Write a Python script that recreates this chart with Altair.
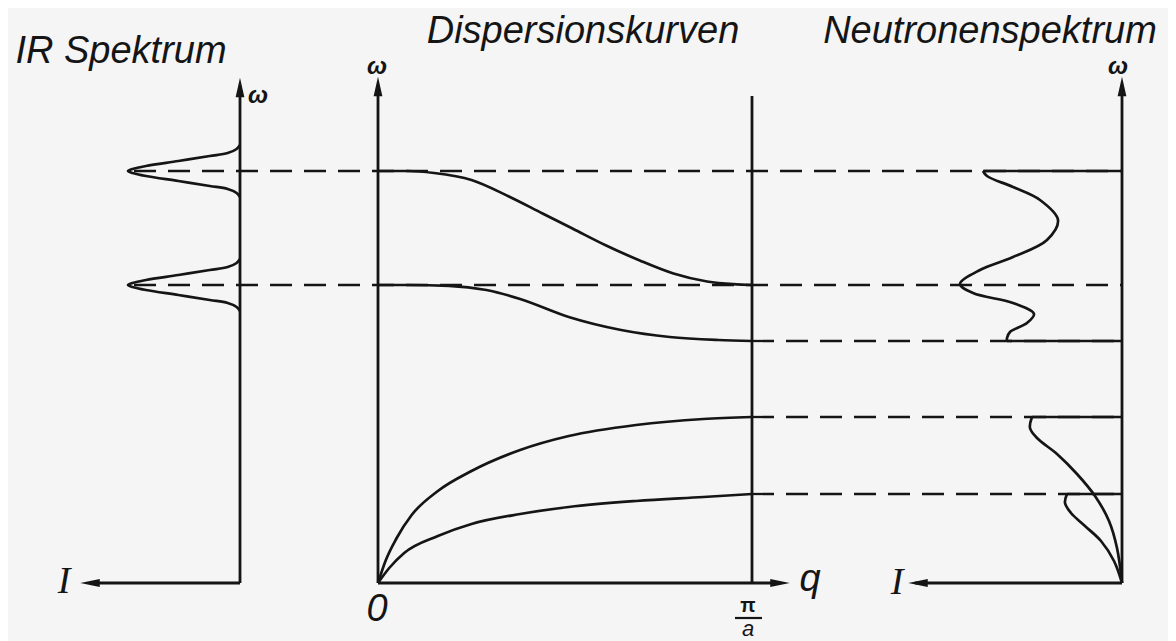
import altair as alt
import pandas as pd

# ---------------- data (omega in arbitrary units, q in units of pi/a) ----------------
TITLES = ["IR Spektrum", "Dispersionskurven", "Neutronenspektrum"]

# band-edge frequencies (dashed lines)
OMEGA_LEVELS = [4.12, 2.98, 2.42, 1.66, 0.89]

# IR spectrum: two absorption peaks at the optical q=0 frequencies
IR_PEAK_CENTERS = [4.12, 2.98]
IR_OFFSET = [-0.26, -0.22, -0.18, -0.15, -0.10, -0.05, -0.02, 0.0, 0.02, 0.05, 0.10, 0.15, 0.18, 0.22, 0.26]
IR_INT = [0.0, 0.03, 0.11, 0.27, 0.55, 0.84, 0.96, 1.0, 0.96, 0.84, 0.55, 0.27, 0.11, 0.03, 0.0]

# dispersion branches
Q_OPT_UP = [0, 0.08, 0.15, 0.25, 0.35, 0.44, 0.52, 0.61, 0.70, 0.79, 0.88, 0.95, 1.0]
W_OPT_UP = [4.12, 4.12, 4.10, 4.03, 3.865, 3.695, 3.545, 3.375, 3.225, 3.095, 3.015, 2.988, 2.98]
Q_OPT_LO = [0, 0.08, 0.19, 0.29, 0.38, 0.51, 0.65, 0.78, 0.91, 1.0]
W_OPT_LO = [2.98, 2.98, 2.972, 2.93, 2.84, 2.66, 2.53, 2.46, 2.43, 2.42]
Q_AC_UP = [0, 0.02, 0.05, 0.09, 0.16, 0.25, 0.38, 0.51, 0.69, 0.87, 1.0]
W_AC_UP = [0, 0.22, 0.45, 0.68, 0.92, 1.12, 1.33, 1.47, 1.58, 1.64, 1.66]
Q_AC_LO = [0, 0.03, 0.07, 0.16, 0.25, 0.38, 0.51, 0.69, 0.87, 1.0]
W_AC_LO = [0, 0.15, 0.30, 0.47, 0.59, 0.69, 0.76, 0.82, 0.86, 0.89]

# neutron spectrum (intensity, omega); band edges are closed by horizontal lines to the axis
NEU_OPT_I = [1.39, 1.35, 1.09, 0.82, 0.64, 0.75, 1.09, 1.42, 1.62, 1.49, 1.09, 0.88, 0.95, 1.12, 1.15, 1.15]
NEU_OPT_W = [4.12, 4.07, 3.96, 3.83, 3.63, 3.43, 3.26, 3.13, 2.99, 2.90, 2.80, 2.69, 2.60, 2.51, 2.45, 2.42]
NEU_AC1_I = [0.90, 0.92, 0.85, 0.65, 0.45, 0.27, 0.13, 0.05, 0]
NEU_AC1_W = [1.66, 1.55, 1.45, 1.29, 1.09, 0.87, 0.62, 0.35, 0]
NEU_AC2_I = [0.55, 0.57, 0.51, 0.37, 0.21, 0.08, 0]
NEU_AC2_W = [0.89, 0.80, 0.70, 0.57, 0.42, 0.22, 0]

# ---------------- layout ----------------
W, H = 1160, 633
def X(px):  # page pixel -> figure x
    return px - 8
def Y(py):  # page pixel -> omega units
    return (583 - py) / 100.0

X_IR_AXIS = X(240); IR_SCALE = 112
X_Q0 = X(378); Q_SCALE = 374
X_NEU = X(1122); NEU_SCALE = 100
INK = "#151515"

xs = alt.Scale(domain=[0, W], range=[0, W], nice=False, zero=False)
ys = alt.Scale(domain=[Y(8 + H), Y(8)], nice=False, zero=False)
ex = alt.X("x:Q", scale=xs, axis=None)
ey = alt.Y("w:Q", scale=ys, axis=None)

# ---- curves ----
rows = []
for k, c in enumerate(IR_PEAK_CENTERS):
    for j, (d, i) in enumerate(zip(IR_OFFSET, IR_INT)):
        rows.append(dict(series=f"ir{k}", order=j, x=X_IR_AXIS - IR_SCALE * i, w=c + d))
neu_sets = [("n1", NEU_OPT_I, NEU_OPT_W), ("n2", NEU_AC1_I, NEU_AC1_W), ("n3", NEU_AC2_I, NEU_AC2_W)]
for name, ii, ww in neu_sets:
    for j, (i, w) in enumerate(zip(ii, ww)):
        rows.append(dict(series=name, order=j, x=X_NEU - NEU_SCALE * i, w=w))
spec_df = pd.DataFrame(rows)

# closing lines of the neutron spectrum (from the curve ends to the axis)
close = []
for name, ii, ww in neu_sets:
    for i, w in [(ii[0], ww[0]), (ii[-1], ww[-1])]:
        if i > 0:
            close.append(dict(x=X_NEU - NEU_SCALE * i, x2=X_NEU, w=w))
close_df = pd.DataFrame(close)

drows = []
for name, qq, ww in [("o1", Q_OPT_UP, W_OPT_UP), ("o2", Q_OPT_LO, W_OPT_LO),
                     ("a1", Q_AC_UP, W_AC_UP), ("a2", Q_AC_LO, W_AC_LO)]:
    for j, (q, w) in enumerate(zip(qq, ww)):
        drows.append(dict(series=name, order=j, x=X_Q0 + Q_SCALE * q, w=w))
disp_df = pd.DataFrame(drows)

spec = alt.Chart(spec_df).mark_line(interpolate="catmull-rom", color=INK, strokeWidth=2.7).encode(
    x=ex, y=ey, detail="series:N", order="order:Q")
closing = alt.Chart(close_df).mark_rule(color=INK, strokeWidth=2.7).encode(x=ex, x2="x2:Q", y=ey)
disp = alt.Chart(disp_df).mark_line(interpolate="monotone", color=INK, strokeWidth=2.7).encode(
    x=ex, y=ey, detail="series:N", order="order:Q")

# ---- dashed lines ----
dash_start = [X_IR_AXIS - IR_SCALE + 6, X_IR_AXIS - IR_SCALE + 6, X_Q0 + Q_SCALE, X_Q0 + Q_SCALE, X_Q0 + Q_SCALE]
dash_df = pd.DataFrame(dict(x=dash_start, x2=[X_NEU] * 5, w=OMEGA_LEVELS))
dashes = alt.Chart(dash_df).mark_rule(color=INK, strokeWidth=2.3, strokeDash=[22, 12]).encode(
    x=ex, x2="x2:Q", y=ey)

# ---- axes ----
seg = pd.DataFrame(dict(
    x=[X_IR_AXIS, X_IR_AXIS, X_Q0, X_Q0, X_Q0 + Q_SCALE, X_NEU, X_NEU],
    x2=[X_IR_AXIS, X(95), X_Q0, X(775), X_Q0 + Q_SCALE, X_NEU, X(915)],
    w=[0, 0, 0, 0, 0, 0, 0],
    w2=[Y(86), 0, Y(86), 0, Y(96), Y(86), 0],
))
axes = alt.Chart(seg).mark_rule(color=INK, strokeWidth=2.8).encode(x=ex, x2="x2:Q", y=ey, y2="w2:Q")

UP = "M0,-1L0.45,1L-0.45,1Z"
LEFT = "M-1,0L1,-0.4L1,0.4Z"
RIGHT = "M1,0L-1,-0.4L-1,0.4Z"
arr = pd.DataFrame(dict(
    x=[X_IR_AXIS, X(90), X_Q0, X(780), X_NEU, X(918)],
    w=[Y(87.5), 0, Y(86.5), 0, Y(86.5), 0],
    d=["up", "left", "up", "right", "up", "left"],
))
arrows = alt.Chart(arr).mark_point(filled=True, color=INK, opacity=1, size=380, strokeWidth=0).encode(
    x=ex, y=ey,
    shape=alt.Shape("d:N", scale=alt.Scale(domain=["up", "left", "right"], range=[UP, LEFT, RIGHT]), legend=None))

# ---- texts ----
def txt(df, **kw):
    return alt.Chart(pd.DataFrame(df)).mark_text(color=INK, **kw).encode(x=ex, y=ey, text="t:N")

titles = txt(dict(t=TITLES, x=[X(121), X(583), X(990)], w=[Y(63), Y(43), Y(43)]),
             font="Liberation Sans", fontSize=38, fontStyle="italic", align="center", baseline="alphabetic")
labels = txt(dict(t=["0", "q"], x=[X(377), X(810)], w=[Y(621), Y(591)]),
             font="Liberation Sans", fontSize=38, fontStyle="italic", align="center", baseline="alphabetic")
ilabels = txt(dict(t=["I", "I"], x=[X(64), X(897)], w=[Y(593), Y(594)]),
              font="Liberation Serif", fontSize=38, fontStyle="italic", align="center", baseline="alphabetic")
omegas = txt(dict(t=["ω", "ω", "ω"], x=[X(258), X(377), X(1118)], w=[Y(103), Y(74), Y(74)]),
             font="Liberation Sans", fontSize=24, fontStyle="italic", fontWeight="bold", align="center", baseline="alphabetic")
pi = txt(dict(t=["π"], x=[X(748)], w=[Y(612)]),
         font="Liberation Sans", fontSize=20, fontWeight="bold", align="center", baseline="alphabetic")
a = txt(dict(t=["a"], x=[X(748)], w=[Y(636)]),
        font="Liberation Sans", fontSize=22, fontStyle="italic", align="center", baseline="alphabetic")
bar = alt.Chart(pd.DataFrame(dict(x=[X(735)], x2=[X(762)], w=[Y(618)]))).mark_rule(color=INK, strokeWidth=2.2).encode(
    x=ex, x2="x2:Q", y=ey)

chart = alt.layer(dashes, axes, closing, spec, disp, arrows, titles, labels, ilabels, omegas, pi, a, bar).properties(
    width=W, height=H, padding=0, autosize=alt.AutoSizeParams(type="none"), background="#f5f5f5"
).configure_view(stroke=None)

chart.save("out.html", embed_options={"renderer": "svg", "actions": False})
